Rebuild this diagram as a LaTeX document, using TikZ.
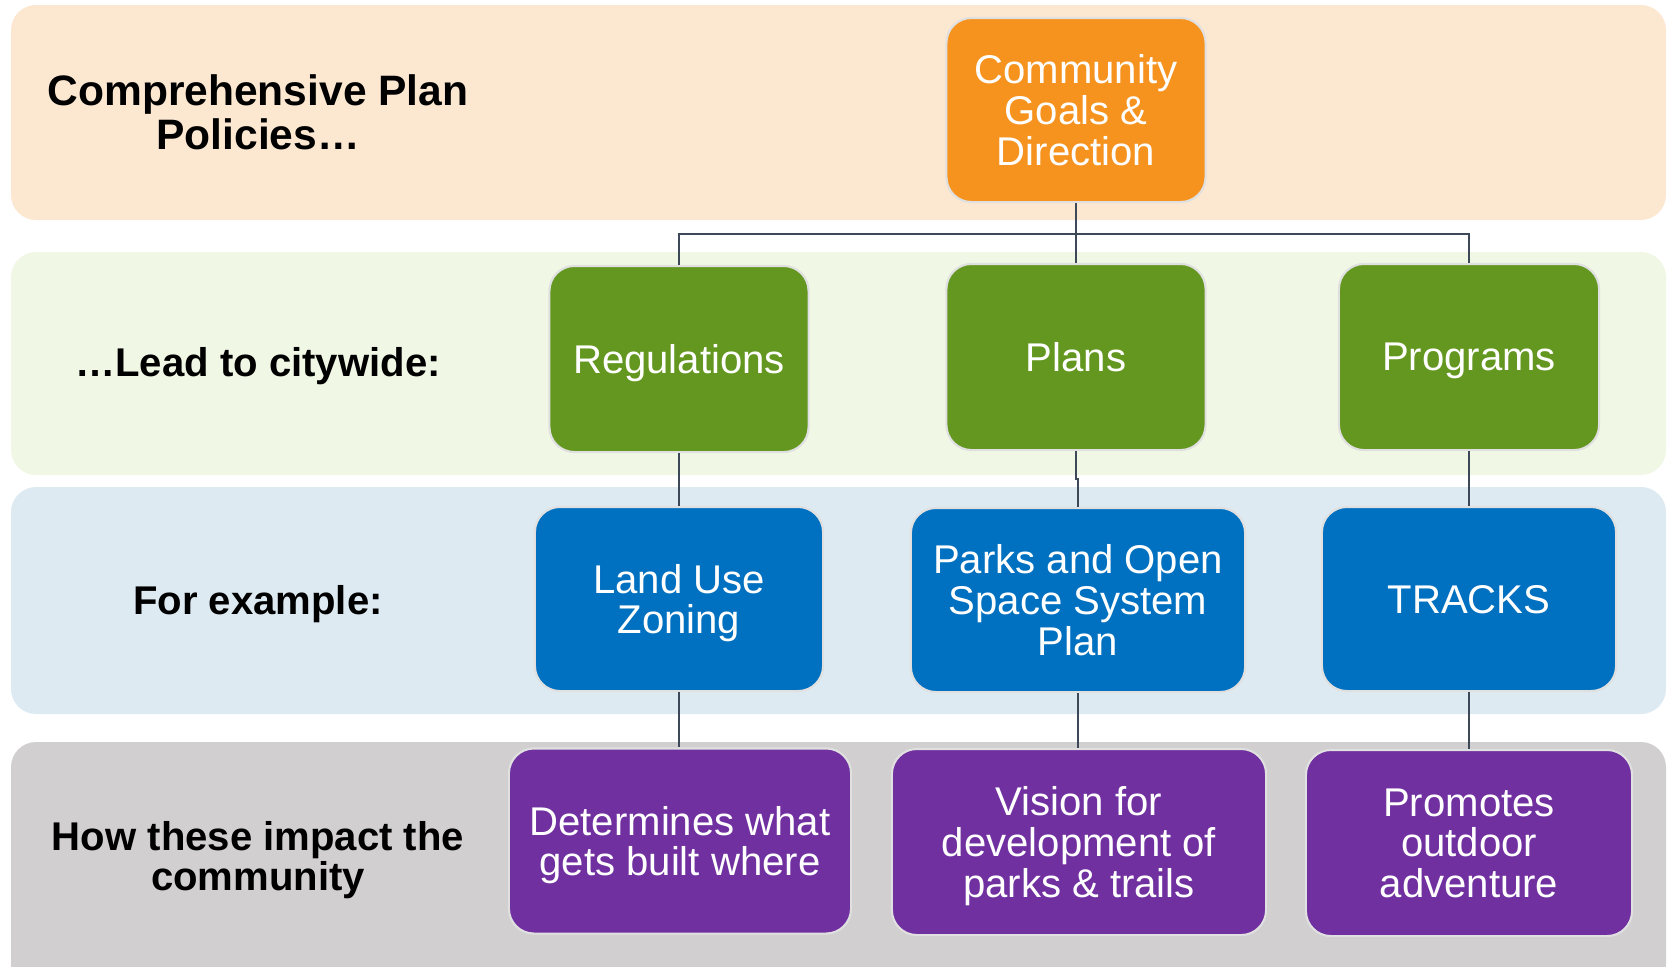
\documentclass[tikz,border=0pt]{standalone}
\usepackage{fontspec}
\setmainfont{Liberation Sans}
\usepackage{tikz}
\usetikzlibrary{calc}
\definecolor{peach}{HTML}{FCE7D1}
\definecolor{lightgreen}{HTML}{F1F7E5}
\definecolor{lightblue}{HTML}{DDEAF2}
\definecolor{lightgray}{HTML}{D1CFD0}
\definecolor{orangebox}{HTML}{F6931F}
\definecolor{greenbox}{HTML}{63971F}
\definecolor{bluebox}{HTML}{0070C0}
\definecolor{purplebox}{HTML}{7030A0}
\definecolor{linkcol}{HTML}{3D4859}
\begin{document}
\begin{tikzpicture}[x=0.01cm, y=-0.01cm,
  band/.style = {rounded corners=0.25cm},
  box/.style = {draw=black!12, line width=0.6pt, rounded corners=0.25cm, text=white, align=center, inner sep=0pt, text depth=0pt, font=\fontsize{11.4}{11.55}\selectfont},
  head/.style = {align=center, text depth=0pt, font=\bfseries\fontsize{11.4}{11.5}\selectfont},
  link/.style = {draw=linkcol, line width=0.75pt}]
\useasboundingbox (0,0) rectangle (1669,966);
\fill[band, peach] (11,5) rectangle (1666,220);
\fill[band, lightgreen] (11,252) rectangle (1666,475);
\fill[band, lightblue] (11,487) rectangle (1666,714);
\fill[band, lightgray] (11,742) rectangle (1666,990);
\node[head, font=\bfseries\fontsize{12.1}{12.7}\selectfont] (h1) at (258,112) {Comprehensive Plan\\Policies…};
\node[head] (h2) at (258,362) {…Lead to citywide:};
\node[head] (h3) at (258,600) {For example:};
\node[head] (h4) at (258,856) {How these impact the\\community};
\node[box, fill=orangebox, minimum width=2.59cm, minimum height=1.84cm] (1) at (1076,110) {Community\\Goals \&\\Direction};
\node[box, fill=greenbox, minimum width=2.59cm, minimum height=1.86cm] (2) at (679,359) {Regulations};
\node[box, fill=greenbox, minimum width=2.59cm, minimum height=1.86cm] (3) at (1076,357) {Plans};
\node[box, fill=greenbox, minimum width=2.60cm, minimum height=1.86cm] (4) at (1469,357) {Programs};
\node[box, fill=bluebox, minimum width=2.88cm, minimum height=1.84cm] (5) at (679,599) {Land Use\\Zoning};
\node[box, fill=bluebox, minimum width=3.34cm, minimum height=1.84cm] (6) at (1078,600) {Parks and Open\\Space System\\Plan};
\node[box, fill=bluebox, minimum width=2.94cm, minimum height=1.84cm] (7) at (1469,599) {TRACKS};
\node[box, fill=purplebox, minimum width=3.42cm, minimum height=1.85cm] (8) at (680,841) {Determines what\\gets built where};
\node[box, fill=purplebox, minimum width=3.74cm, minimum height=1.86cm] (9) at (1079,842) {Vision for\\development of\\parks \& trails};
\node[box, fill=purplebox, minimum width=3.26cm, minimum height=1.86cm] (10) at (1469,843) {Promotes\\outdoor\\adventure};
\coordinate (j) at (1076,234);
\draw[link] (1.south) -- (j);
\draw[link] (2.north) |- (j) -| (4.north);
\draw[link] (j) -- (3.north);
\draw[link] (2.south) -- (2.south |- 5.north);
\draw[link] (3.south) |- ($(3.south |- 6.north)!0.5!(3.south)$) -| (6.north);
\draw[link] (4.south) -- (4.south |- 7.north);
\draw[link] (5.south) -- (5.south |- 8.north);
\draw[link] (6.south) -- (6.south |- 9.north);
\draw[link] (7.south) -- (7.south |- 10.north);
\end{tikzpicture}
\end{document}
